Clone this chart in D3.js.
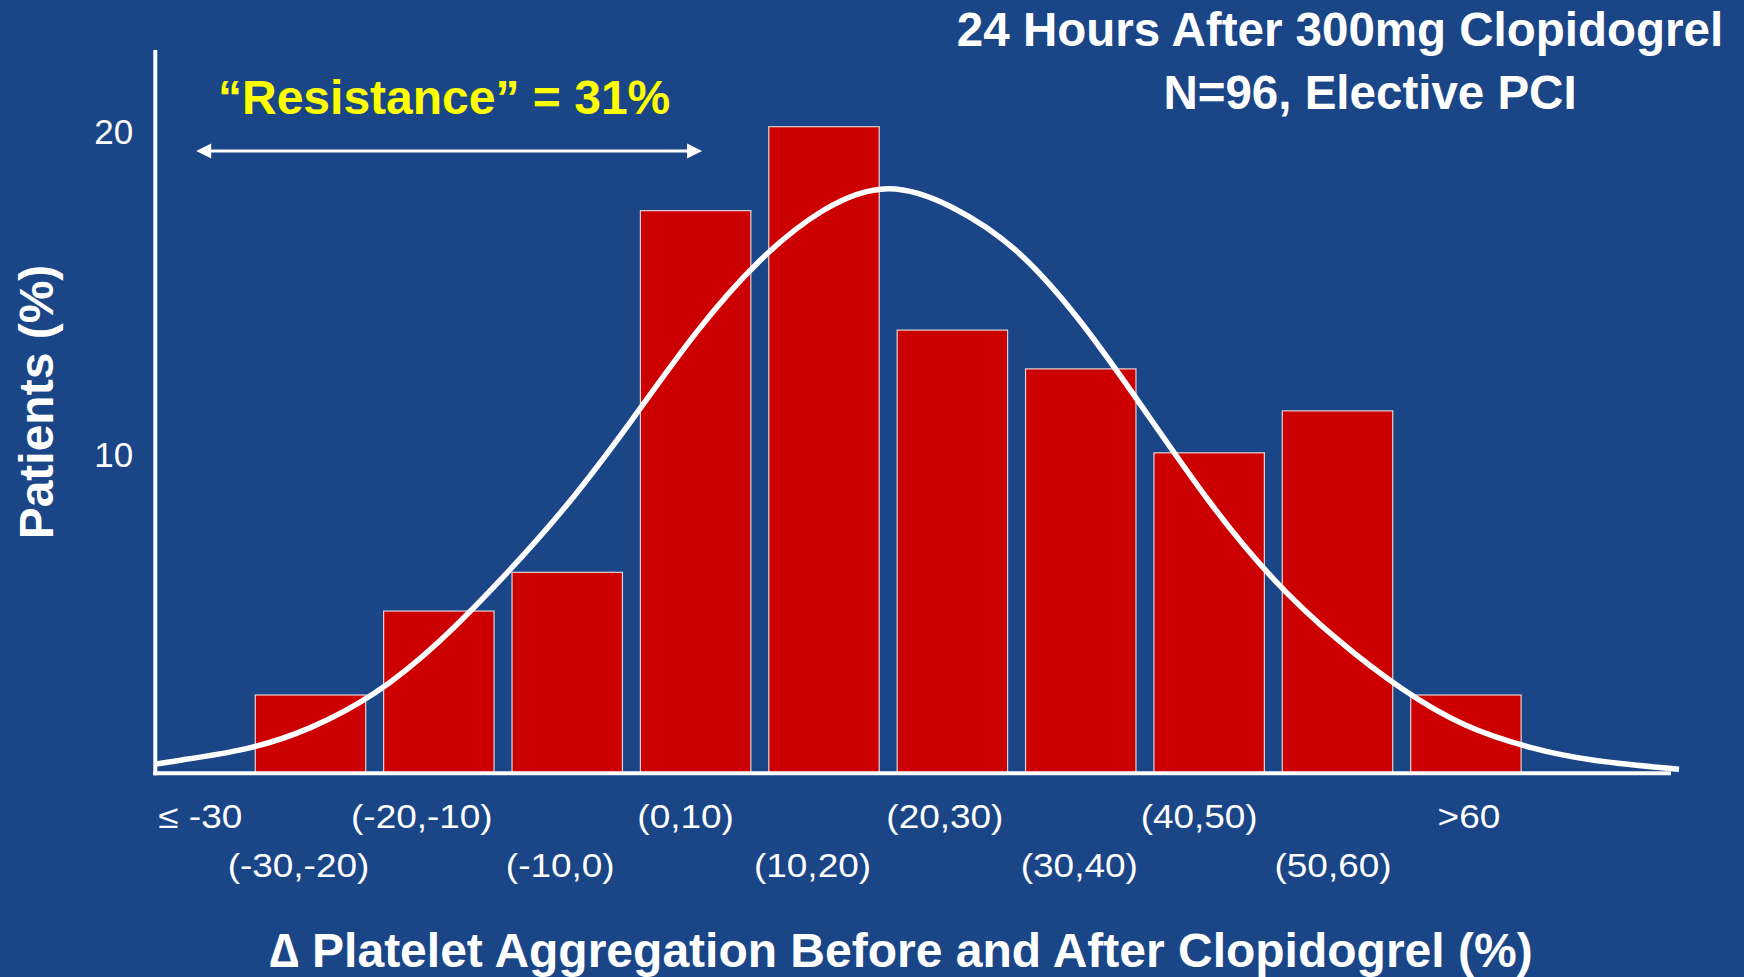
<!DOCTYPE html>
<html>
<head>
<meta charset="utf-8">
<script src="https://cdn.jsdelivr.net/npm/d3@7"></script>
<style>
  html, body { margin: 0; padding: 0; background: #1A4688; }
  svg { display: block; }
  text { font-family: "Liberation Sans", Arial, Helvetica, sans-serif; fill: #FFFFFF; }
</style>
</head>
<body>
<svg id="chart" width="1744" height="977"></svg>
<script>
// Histogram categories (change in platelet aggregation, %)
const categories = ["≤ -30", "(-30,-20)", "(-20,-10)", "(-10,0)", "(0,10)", "(10,20)",
                    "(20,30)", "(30,40)", "(40,50)", "(50,60)", ">60"];
// Share of patients in each category (%); no bar for the first bin
const patientsPct = [null, 2.4, 5.0, 6.2, 17.4, 20.0, 13.7, 12.5, 9.9, 11.2, 2.4];

// Fitted distribution curve: x in Δ aggregation (%), y in patients (%)
const fitX   = [-37.1, -35, -30, -25, -20, -15, -10, -5, 0, 5, 10, 15, 20,
                25, 30, 35, 40, 45, 50, 55, 60, 65, 70, 75, 81.6];
const fitPct = [0.26, 0.39, 0.74, 1.39, 2.46, 4.05, 6.05, 8.3, 10.9, 13.6, 15.85, 17.42, 18.08,
                17.5, 16.15, 13.95, 11.2, 8.4, 6.0, 4.12, 2.6, 1.46, 0.78, 0.38, 0.1];

// Y axis tick labels
const yTicks = [10, 20];

// "Resistance" span on the Δ aggregation axis, and the height it is drawn at
const resistanceSpan = [-33.9, 5.5];
const resistanceLevel = 19.25;

const titleLines = ["24 Hours After 300mg Clopidogrel", "N=96, Elective PCI"];
const resistanceLabel = "\u201CResistance\u201D = 31%";
const xTitle = "\u2206 Platelet Aggregation Before and After Clopidogrel (%)";
const yTitle = "Patients (%)";

// ---- layout ----
const AXIS_X = 155.3, AXIS_Y = 773.3, AXIS_TOP = 50, AXIS_RIGHT = 1671;
const BAND_L = 117.9, BAND_R = 1530.1;
// horizontal nudge of each category label from its band centre (px)
const LABEL_NUDGE = [0, -12, -17, -7, -10, -11.5, -7.5, -1.5, -10, -4.5, 3];

const svg = d3.select("#chart");

const y = d3.scaleLinear().domain([0, 20]).range([772.5, 126.7]);
const xBand = d3.scaleBand().domain(categories).range([BAND_L, BAND_R])
  .paddingInner(0.14).paddingOuter(0.07);
const xLin = d3.scaleLinear().domain([-40, 70]).range([BAND_L, BAND_R]);

// bars
const barData = categories.map((c, i) => ({ c, v: patientsPct[i] })).filter(d => d.v != null);
svg.append("g").selectAll("rect").data(barData).join("rect")
  .attr("x", d => xBand(d.c))
  .attr("y", d => y(d.v))
  .attr("width", xBand.bandwidth())
  .attr("height", d => y(0) - y(d.v))
  .attr("fill", "#CC0000")
  .attr("stroke", "#E4D2D4")
  .attr("stroke-width", 1.2);

// axes lines
svg.append("line")
  .attr("x1", AXIS_X).attr("x2", AXIS_X)
  .attr("y1", AXIS_TOP).attr("y2", AXIS_Y + 2)
  .attr("stroke", "#FFFFFF").attr("stroke-width", 4);
svg.append("line")
  .attr("x1", AXIS_X - 2).attr("x2", AXIS_RIGHT)
  .attr("y1", AXIS_Y).attr("y2", AXIS_Y)
  .attr("stroke", "#FFFFFF").attr("stroke-width", 4);

// fitted curve
const fitPts = fitX.map((v, i) => [v, fitPct[i]]);
svg.append("path")
  .datum(fitPts)
  .attr("d", d3.line().x(d => xLin(d[0])).y(d => y(d[1])).curve(d3.curveNatural))
  .attr("fill", "none")
  .attr("stroke", "#FFFFFF")
  .attr("stroke-width", 5.5);

// y axis labels
const yAxis = svg.append("g")
  .attr("transform", `translate(${AXIS_X},0)`)
  .call(d3.axisLeft(y).tickValues(yTicks).tickSize(0).tickPadding(22).tickFormat(d3.format("d")));
yAxis.select(".domain").remove();
yAxis.selectAll("text")
  .attr("dy", "0.47em")
  .style("font-size", "35px")
  .style("font-family", "'Liberation Sans', Arial, sans-serif")
  .attr("fill", "#FFFFFF");

// x axis labels, staggered over two rows
const xAxis = svg.append("g")
  .attr("transform", `translate(0,${AXIS_Y})`)
  .call(d3.axisBottom(xBand).tickSize(0));
xAxis.select(".domain").remove();
const STRETCH = 1.12;
xAxis.selectAll(".tick text")
  .attr("dy", 0)
  .attr("y", (d, i) => i % 2 === 0 ? 54.7 : 103.7)
  .style("font-size", "33px")
  .style("font-family", "'Liberation Sans', Arial, sans-serif")
  .attr("fill", "#FFFFFF")
  .each(function (d, i) {
    const w = this.getComputedTextLength() * STRETCH;
    const center = xBand(d) + xBand.bandwidth() / 2;
    let shift = LABEL_NUDGE[i];
    const minCenter = AXIS_X + w / 2 + 3;
    if (center + shift < minCenter) shift = minCenter - center;
    d3.select(this).attr("transform", `translate(${shift},0) scale(${STRETCH},1)`);
  });

// axis titles
svg.append("text")
  .attr("transform", "translate(53,402) rotate(-90)")
  .attr("text-anchor", "middle")
  .style("font-size", "48px").style("font-weight", "bold")
  .text(yTitle);

svg.append("text")
  .attr("x", 901).attr("y", 967)
  .attr("text-anchor", "middle")
  .style("font-size", "48px").style("font-weight", "bold")
  .text(xTitle);

// chart title
svg.append("text")
  .attr("x", 1340).attr("y", 45.5)
  .attr("text-anchor", "middle")
  .style("font-size", "47.5px").style("font-weight", "bold")
  .text(titleLines[0]);
svg.append("text")
  .attr("x", 1370).attr("y", 109)
  .attr("text-anchor", "middle")
  .style("font-size", "47.5px").style("font-weight", "bold")
  .text(titleLines[1]);

// resistance annotation: double-headed arrow with label
const ax0 = xLin(resistanceSpan[0]), ax1 = xLin(resistanceSpan[1]), ay = y(resistanceLevel);
const HEAD = 15, HALF = 7.5;
svg.append("line")
  .attr("x1", ax0 + HEAD - 1).attr("x2", ax1 - HEAD + 1)
  .attr("y1", ay).attr("y2", ay)
  .attr("stroke", "#FFFFFF").attr("stroke-width", 3);
svg.append("path")
  .attr("d", `M${ax0},${ay} L${ax0 + HEAD},${ay - HALF} L${ax0 + HEAD},${ay + HALF} Z`)
  .attr("fill", "#FFFFFF");
svg.append("path")
  .attr("d", `M${ax1},${ay} L${ax1 - HEAD},${ay - HALF} L${ax1 - HEAD},${ay + HALF} Z`)
  .attr("fill", "#FFFFFF");

svg.append("text")
  .attr("x", (ax0 + ax1) / 2 - 5).attr("y", 113.5)
  .attr("text-anchor", "middle")
  .style("font-size", "48px").style("font-weight", "bold")
  .style("fill", "#FFFF00")
  .text(resistanceLabel);
</script>
</body>
</html>
